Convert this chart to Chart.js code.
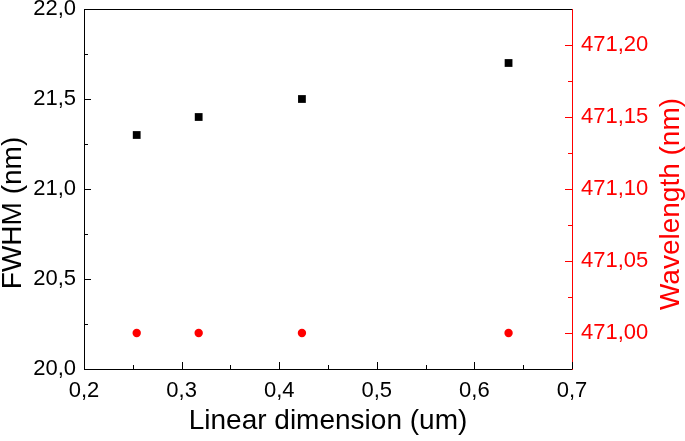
<!DOCTYPE html>
<html>
<head>
<meta charset="utf-8">
<script src="https://cdn.jsdelivr.net/npm/chart.js@4"></script>
<style>
  html, body { margin: 0; padding: 0; background: #fff; }
  #wrap { width: 685px; height: 441px; }
</style>
</head>
<body>
<div id="wrap"><canvas id="c" width="685" height="441"></canvas></div>
<script>
// ---- data ----
const linearDimension = [0.254, 0.3175, 0.4233, 0.635];
const fwhm = [21.3, 21.4, 21.5, 21.7];
const wavelength = [471.00, 471.00, 471.00, 471.00];

const xTicks = [0.2, 0.3, 0.4, 0.5, 0.6, 0.7];
const leftTicks = [20.0, 20.5, 21.0, 21.5, 22.0];
const rightTicks = [471.00, 471.05, 471.10, 471.15, 471.20];

const xTitle = 'Linear dimension (um)';
const leftTitle = 'FWHM (nm)';
const rightTitle = 'Wavelength (nm)';

const FONT = '"Liberation Sans", Arial, sans-serif';
const RED = '#ff0000';

function comma(v, d) { return v.toFixed(d).replace('.', ','); }

function setTicks(arr) {
  return function (scale) { scale.ticks = arr.map(v => ({ value: v })); };
}
function noPadY(s, w) { s.width = w; s.paddingTop = 0; s.paddingBottom = 0; }

// white background, inward major/minor ticks, top frame, y titles
const decor = {
  id: 'decor',
  beforeDraw(chart) {
    const ctx = chart.ctx;
    ctx.save();
    ctx.fillStyle = '#fff';
    ctx.fillRect(0, 0, chart.width, chart.height);
    ctx.restore();
  },
  afterDraw(chart) {
    const ctx = chart.ctx;
    const a = chart.chartArea;
    const sx = chart.scales.x, sy = chart.scales.y, sy1 = chart.scales.y1;
    const MAJ = 7, MIN = 4;
    ctx.save();
    ctx.lineWidth = 1;
    // top frame
    ctx.strokeStyle = '#000';
    ctx.beginPath();
    ctx.moveTo(a.left, a.top + 0.5);
    ctx.lineTo(a.right, a.top + 0.5);
    ctx.stroke();
    // x ticks
    const xs = xTicks;
    ctx.beginPath();
    for (let i = 0; i < xs.length; i++) {
      const p = Math.round(sx.getPixelForValue(xs[i])) + 0.5;
      ctx.moveTo(p, a.bottom); ctx.lineTo(p, a.bottom - MAJ);
      if (i < xs.length - 1) {
        const m = Math.round(sx.getPixelForValue((xs[i] + xs[i + 1]) / 2)) + 0.5;
        ctx.moveTo(m, a.bottom); ctx.lineTo(m, a.bottom - MIN);
      }
    }
    // left ticks
    const ls = leftTicks;
    for (let i = 0; i < ls.length; i++) {
      const p = Math.round(sy.getPixelForValue(ls[i])) + 0.5;
      ctx.moveTo(a.left, p); ctx.lineTo(a.left + MAJ, p);
      if (i < ls.length - 1) {
        const m = Math.round(sy.getPixelForValue((ls[i] + ls[i + 1]) / 2)) + 0.5;
        ctx.moveTo(a.left, m); ctx.lineTo(a.left + MIN, m);
      }
    }
    ctx.stroke();
    // right ticks (red)
    ctx.strokeStyle = RED;
    ctx.beginPath();
    const rs = rightTicks;
    const step = rs[1] - rs[0];
    for (let i = 0; i < rs.length; i++) {
      const p = Math.round(sy1.getPixelForValue(rs[i])) + 0.5;
      ctx.moveTo(a.right, p); ctx.lineTo(a.right - MAJ, p);
      const m = Math.round(sy1.getPixelForValue(rs[i] + step / 2)) + 0.5;
      if (m > a.top + 1) { ctx.moveTo(a.right, m); ctx.lineTo(a.right - MIN, m); }
    }
    ctx.stroke();
    ctx.restore();

    // y titles (both read bottom to top)
    ctx.save();
    ctx.font = '28px ' + FONT;
    ctx.textAlign = 'center';
    ctx.textBaseline = 'middle';
    ctx.fillStyle = '#000';
    ctx.translate(13, 213);
    ctx.rotate(-Math.PI / 2);
    ctx.fillText(leftTitle, 0, 0);
    ctx.restore();

    ctx.save();
    ctx.font = '28px ' + FONT;
    ctx.textAlign = 'center';
    ctx.textBaseline = 'middle';
    ctx.fillStyle = RED;
    ctx.translate(671, 204);
    ctx.rotate(-Math.PI / 2);
    ctx.fillText(rightTitle, 0, 0);
    ctx.restore();
  }
};

new Chart(document.getElementById('c'), {
  type: 'scatter',
  data: {
    datasets: [
      {
        label: 'FWHM',
        data: linearDimension.map((x, i) => ({ x: x, y: fwhm[i] })),
        yAxisID: 'y',
        pointStyle: 'rect',
        pointRadius: 5.5,
        pointHoverRadius: 5.5,
        backgroundColor: '#000',
        borderWidth: 0
      },
      {
        label: 'Wavelength',
        data: linearDimension.map((x, i) => ({ x: x, y: wavelength[i] })),
        yAxisID: 'y1',
        pointStyle: 'circle',
        pointRadius: 4.2,
        pointHoverRadius: 4.2,
        backgroundColor: RED,
        borderWidth: 0
      }
    ]
  },
  options: {
    responsive: false,
    animation: false,
    events: [],
    layout: { padding: { top: 9, left: 0, right: 0, bottom: 0 } },
    plugins: { legend: { display: false }, tooltip: { enabled: false } },
    scales: {
      x: {
        type: 'linear',
        position: 'bottom',
        min: 0.2, max: 0.7,
        afterBuildTicks: setTicks(xTicks),
        afterFit(s) { s.height = 72; s.paddingLeft = 0; s.paddingRight = 0; },
        grid: { display: false, drawTicks: false },
        border: { display: true, color: '#000', width: 1 },
        ticks: {
          color: '#000', padding: 9, maxRotation: 0, autoSkip: false,
          font: { family: FONT, size: 22 },
          callback: v => comma(v, 1)
        },
        title: {
          display: true, text: xTitle, color: '#000',
          font: { family: FONT, size: 28, lineHeight: 1 },
          padding: { top: 0, bottom: 6 }
        }
      },
      y: {
        type: 'linear',
        position: 'left',
        min: 20, max: 22,
        afterBuildTicks: setTicks(leftTicks),
        afterFit(s) { noPadY(s, 84); },
        grid: { display: false, drawTicks: false },
        border: { display: true, color: '#000', width: 1 },
        ticks: {
          color: '#000', padding: 8, autoSkip: false,
          font: { family: FONT, size: 22 },
          callback: v => comma(v, 1)
        },
        title: { display: false }
      },
      y1: {
        type: 'linear',
        position: 'right',
        min: 470.975, max: 471.225,
        afterBuildTicks: setTicks(rightTicks),
        afterFit(s) { noPadY(s, 113); },
        grid: { display: false, drawTicks: false },
        border: { display: true, color: RED, width: 1 },
        ticks: {
          color: RED, padding: 9, autoSkip: false,
          font: { family: FONT, size: 22 },
          callback: v => comma(v, 2)
        },
        title: { display: false }
      }
    }
  },
  plugins: [decor]
});
</script>
</body>
</html>
